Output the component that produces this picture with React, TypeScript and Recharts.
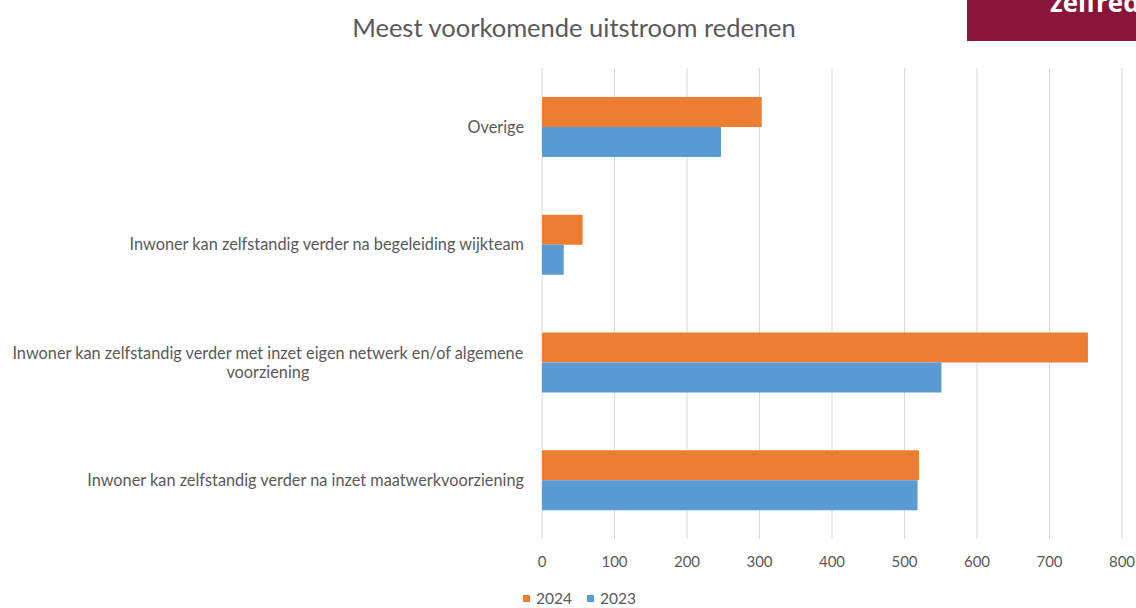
import React from "react";
import { Bar, BarChart, CartesianGrid, Legend, XAxis, YAxis } from "recharts";

const CATEGORIES = [
  "Overige",
  "Inwoner kan zelfstandig verder na begeleiding wijkteam",
  "Inwoner kan zelfstandig verder met inzet eigen netwerk en/of algemene\nvoorziening",
  "Inwoner kan zelfstandig verder na inzet maatwerkvoorziening",
];
const VALUES_2024 = [303, 56, 753, 520];
const VALUES_2023 = [247, 30, 551, 518];
const X_TICKS = [0, 100, 200, 300, 400, 500, 600, 700, 800];

const SERIES = [
  { key: "2024", color: "#ED7D31" },
  { key: "2023", color: "#5B9BD5" },
];

const data = CATEGORIES.map((name, i) => ({
  name,
  "2024": VALUES_2024[i],
  "2023": VALUES_2023[i],
}));

const FONT = "Lato, 'Open Sans', sans-serif";
const TEXT = "#595959";
const LABEL_SIZE = 16.3;

let ctx: CanvasRenderingContext2D | null = null;
function measure(s: string) {
  if (!ctx) ctx = document.createElement("canvas").getContext("2d");
  if (!ctx) return s.length * 7.5;
  ctx.font = `${LABEL_SIZE}px ${FONT}`;
  return ctx.measureText(s).width;
}

// category labels: block right aligned, lines centered inside the block (like Excel)
function CategoryTick(props: any) {
  const { x, y, payload } = props;
  const lines = String(payload.value).split("\n");
  const w = Math.max(...lines.map(measure));
  const right = x - 10;
  const lh = 19;
  const y0 = y - ((lines.length - 1) * lh) / 2;
  return (
    <g>
      {lines.map((l, i) => (
        <text
          key={i}
          x={lines.length > 1 ? right - w / 2 : right}
          y={y0 + i * lh}
          dy="0.35em"
          textAnchor={lines.length > 1 ? "middle" : "end"}
          fill={TEXT}
          fontSize={LABEL_SIZE}
          fontFamily={FONT}
        >
          {l}
        </text>
      ))}
    </g>
  );
}

function LegendContent() {
  return (
    <div style={{ display: "flex", gap: 15, fontFamily: FONT, fontSize: 15.5, lineHeight: "20px", color: TEXT }}>
      {SERIES.map((s) => (
        <div key={s.key} style={{ display: "flex", alignItems: "center", gap: 6 }}>
          <span style={{ width: 7, height: 7, background: s.color, display: "inline-block" }} />
          {s.key}
        </div>
      ))}
    </div>
  );
}

export default function App() {
  return (
    <div style={{ position: "absolute", left: 0, top: 0, width: 1136, height: 608, background: "#fff", overflow: "hidden" }}>
      <div
        style={{
          position: "absolute",
          left: 0,
          width: 1148,
          top: 12,
          textAlign: "center",
          fontFamily: FONT,
          fontSize: 25.5,
          lineHeight: "30px",
          color: TEXT,
        }}
      >
        Meest voorkomende uitstroom redenen
      </div>
      <div
        style={{
          position: "absolute",
          left: 967,
          top: 0,
          width: 169,
          height: 41,
          background: "#8B1538",
          overflow: "hidden",
        }}
      >
        <div
          style={{
            position: "absolute",
            left: 83,
            top: -13,
            color: "#fff",
            fontFamily: "'Open Sans', sans-serif",
            fontWeight: 700,
            fontSize: 26,
            whiteSpace: "nowrap",
            lineHeight: "30px",
          }}
        >
          zelfredzaamheid
        </div>
      </div>
      <BarChart
        width={1136}
        height={608}
        data={data}
        layout="vertical"
        barSize={30}
        barGap={0}
        margin={{ top: 68, right: 14, bottom: 9, left: 0 }}
      >
        <CartesianGrid horizontal={false} stroke="#D9D9D9" />
        <XAxis
          type="number"
          domain={[0, 800]}
          ticks={X_TICKS}
          axisLine={false}
          tickLine={false}
          tickMargin={11}
          height={40}
          tick={{ fill: TEXT, fontSize: 15, fontFamily: FONT }}
        />
        <YAxis
          type="category"
          dataKey="name"
          width={542}
          axisLine={false}
          tickLine={false}
          tick={<CategoryTick />}
          interval={0}
        />
        <Legend
          content={<LegendContent />}
          wrapperStyle={{ left: 523, top: 588, width: "auto", height: 20 }}
        />
        {SERIES.map((s) => (
          <Bar key={s.key} dataKey={s.key} fill={s.color} isAnimationActive={false} />
        ))}
      </BarChart>
    </div>
  );
}
